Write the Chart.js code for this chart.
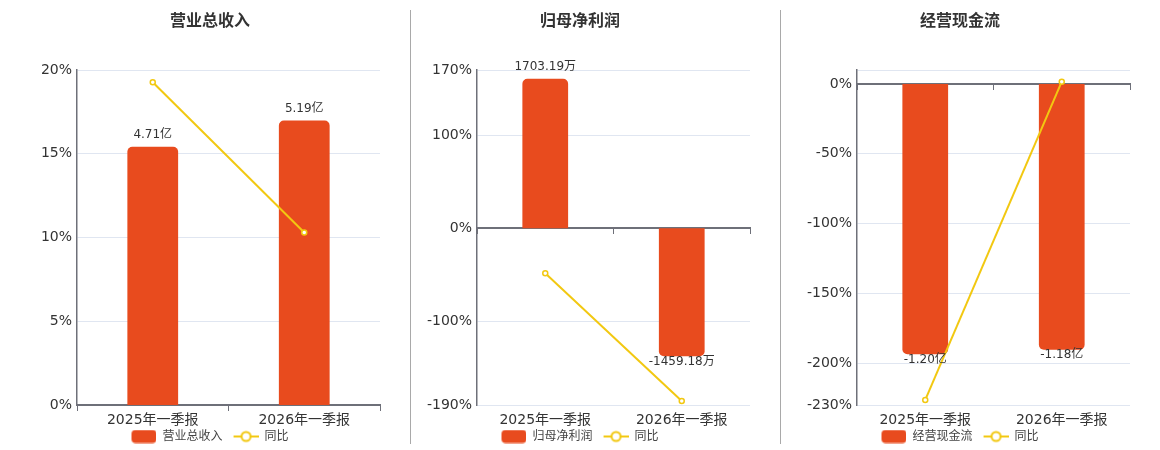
<!DOCTYPE html>
<html>
<head>
<meta charset="utf-8">
<script src="https://cdn.jsdelivr.net/npm/chart.js@4.4.1/dist/chart.umd.min.js"></script>
<style>
  html, body { margin: 0; padding: 0; background: #fff; }
  body { width: 1160px; height: 450px; overflow: hidden; position: relative; }
  .box { position: absolute; top: 0; height: 450px; }
  .sep { position: absolute; top: 10px; width: 1px; height: 434px; background: #a9a9a9; }
</style>
</head>
<body>
<div class="box" id="b1" style="left:0px;width:410px;"><canvas id="c1"></canvas></div>
<div class="box" id="b2" style="left:400px;width:360px;"><canvas id="c2"></canvas></div>
<div class="box" id="b3" style="left:780px;width:360px;"><canvas id="c3"></canvas></div>
<div class="sep" style="left:410px;"></div>
<div class="sep" style="left:780px;"></div>
<script>
// ---- data ----
const categories = ['2025年一季报', '2026年一季报'];

const revenueValues = [4.71, 5.19];          // 亿
const revenueYoY = [19.27, 10.3];            // %
const revenueTicks = [0, 5, 10, 15, 20];

const profitValues = [1703.19, -1459.18];    // 万
const profitYoY = [-48.5, -185.67];          // %
const profitTicks = [-190, -100, 0, 100, 170];

const cashValues = [-1.20, -1.18];           // 亿
const cashYoY = [-226.4, 1.67];              // %
const cashTicks = [-230, -200, -150, -100, -50, 0, 10];

// ---- styles ----
const FONT = "'DejaVu Sans', 'Noto Sans CJK SC', sans-serif";
const BAR_COLOR = '#E84B1E';
const LINE_COLOR = '#F2C811';
const AXIS_COLOR = '#6E7079';
const GRID_COLOR = '#E0E6F1';
const LEGEND_GAP = 8;

function legendImg(kind) {
  const c = document.createElement('canvas');
  c.width = 25 + LEGEND_GAP; c.height = 14;
  const g = c.getContext('2d');
  const o = LEGEND_GAP;
  if (kind === 'bar') {
    g.fillStyle = BAR_COLOR;
    g.beginPath();
    g.roundRect(o, 0.5, 25, 13, 4);
    g.fill();
  } else {
    g.strokeStyle = LINE_COLOR;
    g.lineWidth = 2;
    g.beginPath(); g.moveTo(o, 7); g.lineTo(o + 25, 7); g.stroke();
    g.beginPath(); g.arc(o + 12.5, 7, 4.5, 0, Math.PI * 2);
    g.fillStyle = '#fff'; g.fill(); g.stroke();
  }
  return c;
}
const barLegendImg = legendImg('bar');
const lineLegendImg = legendImg('line');

const valueLabels = {
  id: 'valueLabels',
  afterDatasetsDraw(chart, args, opts) {
    const ctx = chart.ctx;
    const meta = chart.getDatasetMeta(0);
    const data = chart.data.datasets[0].data;
    ctx.save();
    ctx.font = '12px ' + FONT;
    ctx.fillStyle = '#333';
    ctx.textAlign = 'center';
    ctx.textBaseline = 'middle';
    meta.data.forEach((el, i) => {
      const v = data[i];
      const txt = v.toFixed(2) + opts.unit;
      const y = v >= 0 ? el.y - 11.5 : el.y + 5.5;
      ctx.fillText(txt, el.x, y);
    });
    ctx.restore();
  }
};

// centre the visible legend (compensates the transparent gap inside the symbols)
const legendShift = {
  id: 'legendShift',
  afterLayout(chart) {
    const lg = chart.legend;
    if (lg) { lg.left -= LEGEND_GAP / 2; lg.right -= LEGEND_GAP / 2; }
  }
};

function makeChart(id, cfg) {
  const ticks = cfg.ticks;
  return new Chart(document.getElementById(id), {
    data: {
      labels: categories,
      datasets: [
        {
          type: 'bar', label: cfg.title, data: cfg.bars,
          backgroundColor: BAR_COLOR, borderRadius: 5,
          barPercentage: 0.335, categoryPercentage: 1,
          xAxisID: 'x', yAxisID: 'yb', order: 1
        },
        {
          type: 'line', label: '同比', data: cfg.line,
          borderColor: LINE_COLOR, borderWidth: 2,
          pointRadius: 2.5, pointBorderWidth: 1.5,
          pointBackgroundColor: '#fff', pointBorderColor: LINE_COLOR,
          xAxisID: 'x', yAxisID: 'y', order: 0, tension: 0
        }
      ]
    },
    options: {
      responsive: true, maintainAspectRatio: false, animation: false,
      layout: { padding: { left: cfg.padL, right: cfg.padR, top: 0, bottom: 0 } },
      scales: {
        x: {
          type: 'category', position: 'bottom', offset: true,
          grid: { display: false, drawTicks: false, tickLength: 0 },
          border: { display: false },
          afterFit: (s) => { s.height = 22.5; },
          ticks: { color: '#333', padding: 7.5, font: { size: 14, family: FONT, lineHeight: 15 / 14 } }
        },
        x0: {
          type: 'category', axis: 'x', position: { y: 0 }, offset: true,
          grid: { display: true, drawOnChartArea: false, drawTicks: true, tickLength: 5, offset: true, color: AXIS_COLOR, lineWidth: 1 },
          border: { display: true, color: AXIS_COLOR, width: 2 },
          ticks: { display: false }
        },
        y: {
          type: 'linear', position: 'left', min: cfg.yMin, max: cfg.yMax,
          afterBuildTicks: (s) => { s.ticks = ticks.map(v => ({ value: v })); },
          afterFit: (s) => { s.width = cfg.yWidth; },
          grid: { color: GRID_COLOR, lineWidth: 1, drawTicks: false },
          border: { display: true, color: AXIS_COLOR, width: 1.5 },
          ticks: {
            color: '#333', padding: 5, font: { size: 14, family: FONT },
            callback: (v) => (cfg.hideTicks.includes(v) ? '' : v + '%')
          }
        },
        yb: { type: 'linear', display: false, min: cfg.bMin, max: cfg.bMax }
      },
      plugins: {
        title: {
          display: true, text: cfg.title, color: '#333',
          font: { size: 16, weight: 'bold', family: FONT, lineHeight: 1.2 },
          padding: { top: 12, bottom: 38.8 }
        },
        legend: {
          display: true, position: 'bottom', maxHeight: 22.5,
          labels: {
            usePointStyle: true, pointStyleWidth: 25 + LEGEND_GAP, padding: 11 - LEGEND_GAP,
            color: '#444', font: { size: 12, family: FONT },
            generateLabels: () => [
              { text: cfg.title, pointStyle: barLegendImg, fillStyle: BAR_COLOR, strokeStyle: BAR_COLOR, lineWidth: 0, hidden: false, datasetIndex: 0, fontColor: '#444' },
              { text: '同比', pointStyle: lineLegendImg, fillStyle: '#fff', strokeStyle: LINE_COLOR, lineWidth: 0, hidden: false, datasetIndex: 1, fontColor: '#444' }
            ]
          }
        },
        tooltip: { enabled: false },
        valueLabels: { unit: cfg.unit }
      }
    },
    plugins: [valueLabels, legendShift]
  });
}

makeChart('c1', {
  title: '营业总收入', bars: revenueValues, line: revenueYoY, unit: '亿',
  ticks: revenueTicks, hideTicks: [], yMin: 0, yMax: 20, bMin: 0, bMax: 6.11,
  padL: 40, padR: 30, yWidth: 37
});
makeChart('c2', {
  title: '归母净利润', bars: profitValues, line: profitYoY, unit: '万',
  ticks: profitTicks, hideTicks: [], yMin: -190, yMax: 170, bMin: -2016, bMax: 1804,
  padL: 10, padR: 10, yWidth: 67
});
makeChart('c3', {
  title: '经营现金流', bars: cashValues, line: cashYoY, unit: '亿',
  ticks: cashTicks, hideTicks: [10], yMin: -230, yMax: 10, bMin: -1.425, bMax: 0.062,
  padL: 10, padR: 10, yWidth: 67
});
</script>
</body>
</html>
